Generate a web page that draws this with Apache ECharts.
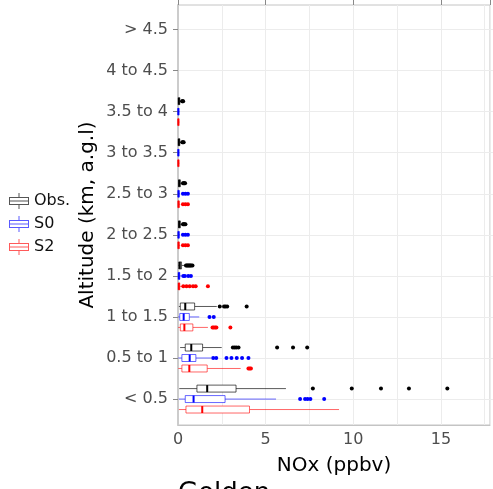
<!DOCTYPE html>
<html><head><meta charset="utf-8">
<script src="https://cdn.jsdelivr.net/npm/echarts@6/dist/echarts.min.js"></script>
<style>html,body{margin:0;padding:0;background:#fff}#c{width:493px;height:489px}</style>
</head><body><div id="c"></div>
<script>
// ---- data ----
const categories = ['< 0.5','0.5 to 1','1 to 1.5','1.5 to 2','2 to 2.5','2.5 to 3','3 to 3.5','3.5 to 4','4 to 4.5','> 4.5'];
const seriesNames = ['Obs.','S0','S2'];
const xTickLabels = [0, 5, 10, 15];
// [min, q1, median, q3, max] per category (null = no data)
const obsBox = [
  [0.07, 1.07, 1.65, 3.28, 6.1],
  [0.12, 0.41, 0.75, 1.39, 2.47],
  [0.05, 0.13, 0.41, 0.94, 2.19],
  [0.0, 0.04, 0.1, 0.2, 0.42],
  [0.0, 0.03, 0.07, 0.13, 0.25],
  [0.0, 0.03, 0.07, 0.13, 0.25],
  [0.0, 0.02, 0.05, 0.1, 0.2],
  [0.0, 0.02, 0.05, 0.1, 0.2],
  null, null
];
const obsOut = [
  [7.62, 9.82, 11.47, 13.05, 15.22],
  [3.1, 3.2, 3.3, 3.42, 5.6, 6.5, 7.3],
  [2.36, 2.6, 2.68, 2.78, 3.88],
  [0.45, 0.5, 0.55, 0.6, 0.65, 0.7, 0.75, 0.82],
  [0.28, 0.32, 0.36, 0.42],
  [0.28, 0.32, 0.36, 0.4],
  [0.24, 0.28, 0.32],
  [0.23, 0.26, 0.29],
  [], []
];
const s0Box = [
  [0.05, 0.41, 0.88, 2.66, 5.54],
  [0.02, 0.22, 0.66, 1.01, 1.87],
  [0.01, 0.1, 0.32, 0.64, 1.2],
  [0.0, 0.02, 0.05, 0.1, 0.22],
  [0.0, 0.01, 0.03, 0.06, 0.12],
  [0.0, 0.01, 0.03, 0.06, 0.12],
  [0.0, 0.01, 0.02, 0.04, 0.08],
  [0.0, 0.01, 0.02, 0.04, 0.08],
  null, null
];
const s0Out = [
  [6.9, 7.18, 7.32, 7.48, 8.26],
  [1.99, 2.16, 2.74, 3.02, 3.32, 3.62, 3.98],
  [1.78, 2.02],
  [0.3, 0.39, 0.58, 0.73],
  [0.28, 0.42, 0.56],
  [0.28, 0.42, 0.56],
  [], [], [], []
];
const s2Box = [
  [0.05, 0.45, 1.37, 4.04, 9.1],
  [0.02, 0.22, 0.64, 1.65, 3.54],
  [0.01, 0.13, 0.36, 0.84, 1.69],
  [0.0, 0.02, 0.05, 0.1, 0.22],
  [0.0, 0.01, 0.03, 0.06, 0.12],
  [0.0, 0.01, 0.03, 0.06, 0.12],
  [0.0, 0.01, 0.02, 0.04, 0.08],
  [0.0, 0.01, 0.02, 0.04, 0.08],
  null, null
];
const s2Out = [
  [],
  [3.98, 4.05, 4.12],
  [1.95, 2.02, 2.1, 2.17, 2.96],
  [0.3, 0.48, 0.66, 0.85, 1.0, 1.69],
  [0.28, 0.42, 0.56],
  [0.28, 0.42, 0.56],
  [], [], [], []
];

// ---- styling ----
const FONT = 'DejaVu Sans';
const palette = [
  {box:'rgba(0,0,0,0.65)', key:'#555555', median:'#000000', point:'#000000'},
  {box:'rgba(0,0,255,0.6)', key:'#5a5aff', median:'#0000ff', point:'#0000ff'},
  {box:'rgba(255,0,0,0.6)', key:'#ff5a5a', median:'#ff0000', point:'#ff0000'}
];
const dodge = [-1, 0, 1];
const boxSets = [obsBox, s0Box, s2Box];
const outSets = [obsOut, s0Out, s2Out];

function boxData(arr){ const d=[]; arr.forEach((b,i)=>{ if(b) d.push([i].concat(b)); }); return d; }
function outData(arr){ const d=[]; arr.forEach((vals,i)=>vals.forEach(v=>d.push([i, v]))); return d; }

function renderBox(k){
  return function(params, api){
    const ci = api.value(0);
    const bw = api.size([0, 1])[1];
    const cy = api.coord([0, ci])[1] + dodge[k] * bw * 0.255;
    const h = bw * 0.17;
    const x = [1,2,3,4,5].map(d => api.coord([api.value(d), ci])[0]);
    const col = palette[k];
    return {type:'group', children:[
      {type:'line', shape:{x1:x[0], y1:cy, x2:x[1], y2:cy}, style:{stroke:col.box, lineWidth:1}},
      {type:'line', shape:{x1:x[3], y1:cy, x2:x[4], y2:cy}, style:{stroke:col.box, lineWidth:1}},
      {type:'rect', shape:{x:x[1], y:cy-h/2, width:Math.max(x[3]-x[1], 0.5), height:h}, style:{fill:'#ffffff', stroke:col.box, lineWidth:1}},
      {type:'line', shape:{x1:x[2], y1:cy-h/2, x2:x[2], y2:cy+h/2}, style:{stroke:col.median, lineWidth:2}}
    ]};
  };
}
function renderOut(k){
  return function(params, api){
    const ci = api.value(0);
    const bw = api.size([0, 1])[1];
    const p = api.coord([api.value(1), ci]);
    return {type:'circle', shape:{cx:p[0], cy:p[1] + dodge[k] * bw * 0.255, r:2}, style:{fill:palette[k].point}};
  };
}

// boxplot glyph made of thin filled bars (20 x 16)
const LEGEND_ICON = 'path://M9.5,0h1v4h-1z M0,4h20v1h-20z M0,11h20v1h-20z M0,4h1v8h-1z M19,4h1v8h-1z M0,7.5h20v1h-20z M9.5,12h1v4h-1z';

const series = [];
seriesNames.forEach((name, k) => {
  series.push({
    name: name, type:'custom', xAxisIndex:2, yAxisIndex:1,
    renderItem: renderBox(k), data: boxData(boxSets[k]),
    encode:{x:[1,2,3,4,5], y:0},
    itemStyle:{color:palette[k].key}, z: 3
  });
  series.push({
    name: name, type:'custom', xAxisIndex:2, yAxisIndex:1,
    renderItem: renderOut(k), data: outData(outSets[k]),
    encode:{x:1, y:0},
    itemStyle:{color:palette[k].point}, z: 4
  });
});

const chart = echarts.init(document.getElementById('c'), null, {renderer:'canvas'});
chart.setOption({
  animation:false,
  backgroundColor:'#ffffff',
  textStyle:{fontFamily:FONT},
  title:{text:'Golden', left:178, top:481, padding:0, textStyle:{fontSize:26, fontWeight:'normal', color:'#000', fontFamily:FONT}},
  legend:{
    orient:'vertical', left:9, top:193, padding:0, itemWidth:20, itemHeight:16, itemGap:7,
    textStyle:{fontSize:16, color:'#111111', fontFamily:FONT},
    data: seriesNames.map((n,k)=>({name:n, icon:LEGEND_ICON, itemStyle:{color:palette[k].key, borderWidth:0}}))
  },
  grid:[
    {left:178, top:5, right:-2, bottom:64, show:true, borderColor:'#c4c4c4', borderWidth:1},
    {left:178, top:9, right:-2, height:410.6}
  ],
  xAxis:[
    {gridIndex:0, type:'value', min:0, max:17.8, interval:2.5,
     axisLine:{show:true, lineStyle:{color:'#c4c4c4'}}, axisTick:{show:false},
     axisLabel:{formatter:v => xTickLabels.indexOf(v) >= 0 ? String(v) : '', color:'#4d4d4d', fontSize:16, fontFamily:FONT, margin:7},
     splitLine:{show:true, lineStyle:{color:'#ececec', width:1}},
     name:'NOx (ppbv)', nameLocation:'middle', nameGap:31,
     nameTextStyle:{fontSize:20, color:'#000', fontFamily:FONT}},
    {gridIndex:0, type:'value', min:0, max:17.8, interval:5,
     axisLine:{show:false}, axisTick:{show:true, length:5, lineStyle:{color:'#888'}},
     axisLabel:{show:false}, splitLine:{show:false}},
    {gridIndex:1, type:'value', min:0, max:17.8, show:false, splitLine:{show:false}}
  ],
  yAxis:[
    {gridIndex:0, type:'value', min:0, max:1,
     axisLine:{show:true, lineStyle:{color:'#cccccc', width:2}}, axisTick:{show:false}, axisLabel:{show:false}, splitLine:{show:false},
     name:'Altitude (km, a.g.l)', nameLocation:'middle', nameGap:80, nameRotate:90,
     nameTextStyle:{fontSize:20, color:'#000', fontFamily:FONT}},
    {gridIndex:1, type:'category', data:categories, boundaryGap:true,
     axisLine:{show:false}, axisTick:{show:true, alignWithLabel:true, length:5, lineStyle:{color:'#888'}},
     axisLabel:{color:'#4d4d4d', fontSize:16, fontFamily:FONT, margin:10},
     splitLine:{show:true, alignWithLabel:true, lineStyle:{color:'#ececec', width:1}}}
  ],
  series: series
});
</script></body></html>
